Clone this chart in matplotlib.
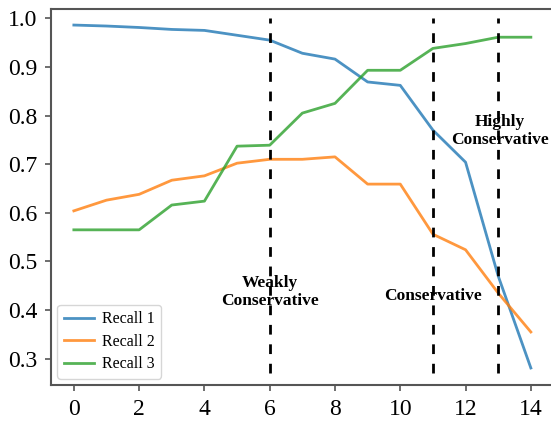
import matplotlib.pyplot as plt
import numpy as np

plt.rcParams['font.family'] = ['Liberation Serif', 'DejaVu Serif']

steps = np.arange(15)
recall_1 = [0.986, 0.984, 0.981, 0.977, 0.975, 0.965, 0.955, 0.928, 0.916,
            0.869, 0.862, 0.770, 0.704, 0.470, 0.281]
recall_2 = [0.604, 0.626, 0.638, 0.667, 0.676, 0.702, 0.710, 0.710, 0.715,
            0.659, 0.659, 0.556, 0.524, 0.435, 0.355]
recall_3 = [0.565, 0.565, 0.565, 0.616, 0.624, 0.737, 0.739, 0.805, 0.825,
            0.893, 0.893, 0.938, 0.948, 0.961, 0.961]

# thresholds separating the operating regimes
cutoffs = [6, 11, 13]
regime_labels = ['Weakly\nConservative', 'Conservative', 'Highly\nConservative']
label_x = [6, 11, 13.05]
label_y = [0.437, 0.429, 0.768]

fig = plt.figure(figsize=(5.51, 4.23), dpi=100)
ax = fig.add_axes([51 / 551, 38 / 423, 502.7 / 551, 376 / 423])

ax.plot(steps, recall_1, color='#1f77b4', lw=2, alpha=0.8, label='Recall 1')
ax.plot(steps, recall_2, color='#ff7f0e', lw=2, alpha=0.8, label='Recall 2')
ax.plot(steps, recall_3, color='#2ca02c', lw=2, alpha=0.8, label='Recall 3')

ax.vlines(cutoffs, 0.271, 1.0, colors='black', linestyles=(0, (3.5, 3.5)), lw=2)

for x, y, txt in zip(label_x, label_y, regime_labels):
    ax.text(x, y, txt, ha='center', va='center', fontsize=12.5,
            fontweight='bold', linespacing=1.15)

ax.set_xlim(-0.7, 14.7)
ax.set_ylim(0.246, 1.019)
ax.set_xticks(range(0, 15, 2))
ax.set_yticks(np.arange(0.3, 1.01, 0.1))
ax.set_yticklabels([f'{v:.1f}' for v in np.arange(0.3, 1.01, 0.1)])

for side in ax.spines.values():
    side.set_color('#555555')
    side.set_linewidth(1.5)
ax.tick_params(labelsize=17, length=4, width=1.2, color='#555555', pad=6)

ax.legend(loc='lower left', fontsize=11.5, handlelength=1.9,
          handletextpad=0.5, borderaxespad=0.4, labelspacing=0.4)

fig.savefig('out.png', dpi=100)
